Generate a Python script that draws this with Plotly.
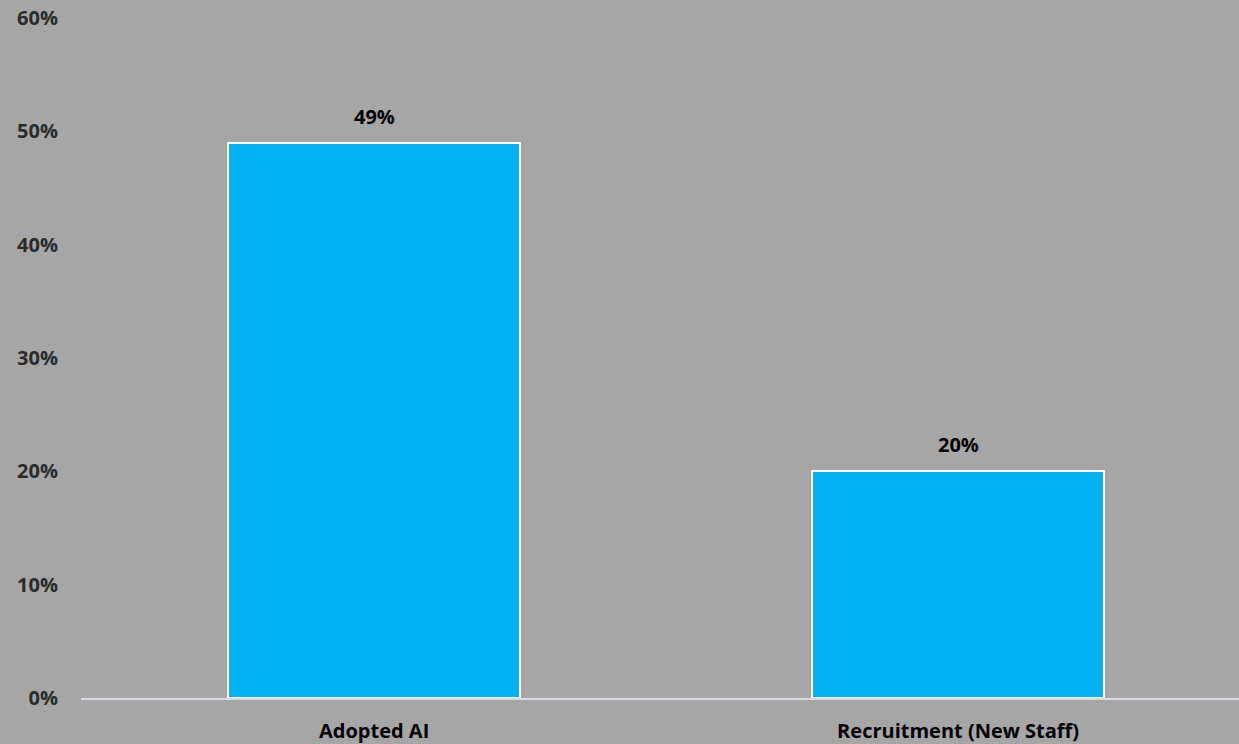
import plotly.graph_objects as go

categories = ["Adopted AI", "Recruitment (New Staff)"]
values = [0.49, 0.20]
tick_vals = [0, 0.1, 0.2, 0.3, 0.4, 0.5, 0.6]
tick_text = ["0%", "10%", "20%", "30%", "40%", "50%", "60%"]

FONT = "Open Sans"
BG = "#A6A6A6"
fig = go.Figure()
fig.add_trace(go.Bar(
    x=[0, 1], y=values, width=0.5,
    marker=dict(color="#00B0F0", line=dict(color="white", width=2)),
    hoverinfo="skip",
))
for i, v in enumerate(values):
    fig.add_annotation(x=i, y=v, text=f"<b>{round(v*100)}%</b>", showarrow=False,
                       yanchor="bottom", yshift=11,
                       font=dict(family=FONT, size=20, color="black"))

fig.update_layout(
    width=1239, height=744,
    margin=dict(l=81, r=0, t=18, b=46),
    paper_bgcolor=BG, plot_bgcolor=BG,
    showlegend=False, bargap=0,
    font=dict(family=FONT),
)
fig.update_xaxes(
    range=[-0.502, 1.481], tickvals=[0, 1],
    ticktext=[f"<b>{c}</b>" for c in categories],
    tickfont=dict(family=FONT, size=20, color="black"),
    showline=True, linecolor="#D9D9E8", linewidth=2,
    showgrid=False, zeroline=False, ticks="", ticklabelstandoff=14,
    ticklabeloverflow="allow",
)
fig.update_yaxes(
    range=[0, 0.6], tickvals=tick_vals,
    ticktext=[f"<b>{t}</b>" for t in tick_text],
    tickfont=dict(family=FONT, size=20, color="#2B2B2B"),
    showgrid=False, zeroline=False, showline=False, ticks="",
    ticklabelstandoff=22, ticklabeloverflow="allow",
)
fig.write_html(
    "out.html",
    config={"displayModeBar": False},
    post_script=("document.body.style.margin='0';"
                 "document.body.style.overflow='hidden';"
                 f"document.body.style.background='{BG}';"),
)
